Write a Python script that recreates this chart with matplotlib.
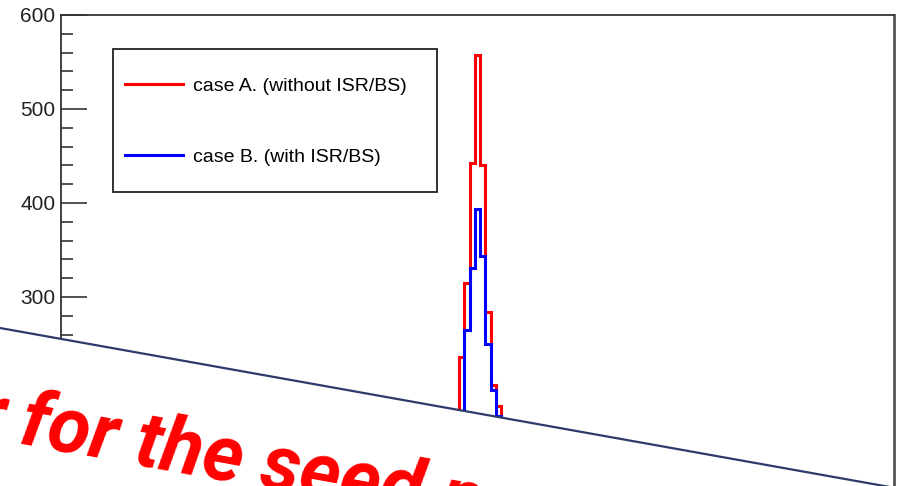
import os
import numpy as np
import matplotlib.pyplot as plt
from matplotlib import font_manager
from matplotlib.patches import Polygon, Rectangle
from matplotlib.lines import Line2D

# histogram contents (bins are 1 unit wide)
bin_edges = np.arange(76, 85)
case_a = [236, 315, 443, 557, 440, 284, 206, 184]   # without ISR/BS
case_b = [150, 265, 331, 394, 344, 250, 201, 173]   # with ISR/BS
labels = ['case A. (without ISR/BS)', 'case B. (with ISR/BS)']


def bold_italic_family():
    # first installed family that really has a bold italic face
    for fam in ['Roboto', 'Lato', 'Open Sans', 'Noto Sans', 'Liberation Sans']:
        try:
            path = font_manager.findfont(
                font_manager.FontProperties(family=fam, style='italic', weight='bold'),
                fallback_to_default=False)
        except ValueError:
            continue
        name = os.path.basename(path).lower()
        if 'italic' in name or 'oblique' in name or name.endswith('bi.ttf') or 'bolditalic' in name:
            return fam
    return 'DejaVu Sans'


W, H = 901, 486
fig = plt.figure(figsize=(W / 100, H / 100), dpi=100)
plt.rcParams['font.family'] = ['Liberation Sans', 'DejaVu Sans']

# axes: left spine at x=61px, top at y=15px, 0.94 px per count
ax = fig.add_axes([61 / W, (H - 15 - 564) / H, 833 / W, 564 / H])
ax.stairs(case_a, bin_edges, color='#ff0000', lw=2.2, label=labels[0])
ax.stairs(case_b, bin_edges, color='#0000ff', lw=2.2, label=labels[1])
ax.set_xlim(-0.5, 159.5)
ax.set_ylim(0, 600)
ax.set_yticks(np.arange(0, 601, 100))
ax.set_yticks(np.arange(0, 601, 20), minor=True)
ax.tick_params(axis='y', which='major', direction='in', length=19, width=1.1,
               labelsize=15, pad=4, colors='#222222')
ax.tick_params(axis='y', which='minor', direction='in', length=8.5, width=1.1,
               colors='#222222')
ax.tick_params(axis='x', which='both', bottom=False, labelbottom=False)
for s in ax.spines.values():
    s.set_color('#333333')
    s.set_linewidth(1.3)
ax.spines['right'].set_linewidth(2.0)
ax.spines['right'].set_color('#555555')

# legend box (frame drawn separately)
fig.add_artist(Rectangle((113 / W, 1 - 192 / H), 324 / W, 143 / H,
                         transform=fig.transFigure, fill=False,
                         ec='#222222', lw=1.3, zorder=5))
ax.legend(loc='upper left', bbox_to_anchor=(125 / W, 1 - 77 / H),
          bbox_transform=fig.transFigure, frameon=False, fontsize=14,
          handlelength=3.0, handletextpad=0.5, labelspacing=2.75,
          borderpad=0, borderaxespad=0)

# slide overlay: rotated white box with red title
x0, y0, x1, y1 = 0, 328, 901, 489
fig.add_artist(Polygon([(x0 / W, 1 - y0 / H), (x1 / W, 1 - y1 / H),
                        (x1 / W, -0.05), (0, -0.05)],
                       closed=True, transform=fig.transFigure,
                       fc='white', ec='none', zorder=10))
fig.add_artist(Line2D([x0 / W, x1 / W], [1 - y0 / H, 1 - y1 / H],
                      transform=fig.transFigure, color='#2E3A6B', lw=1.6,
                      zorder=11))

title_kw = dict(color='#ff0000', fontsize=56, fontweight='bold', style='italic',
                family=[bold_italic_family(), 'DejaVu Sans'], rotation=-10.2,
                rotation_mode='anchor', va='baseline', zorder=12)
fig.text(1 / W, 1 - 441 / H, 'factor', ha='right', **title_kw)
fig.text(18 / W, 1 - 443 / H, 'for the seed particles', ha='left', **title_kw)

plt.savefig('out.png', dpi=100)
